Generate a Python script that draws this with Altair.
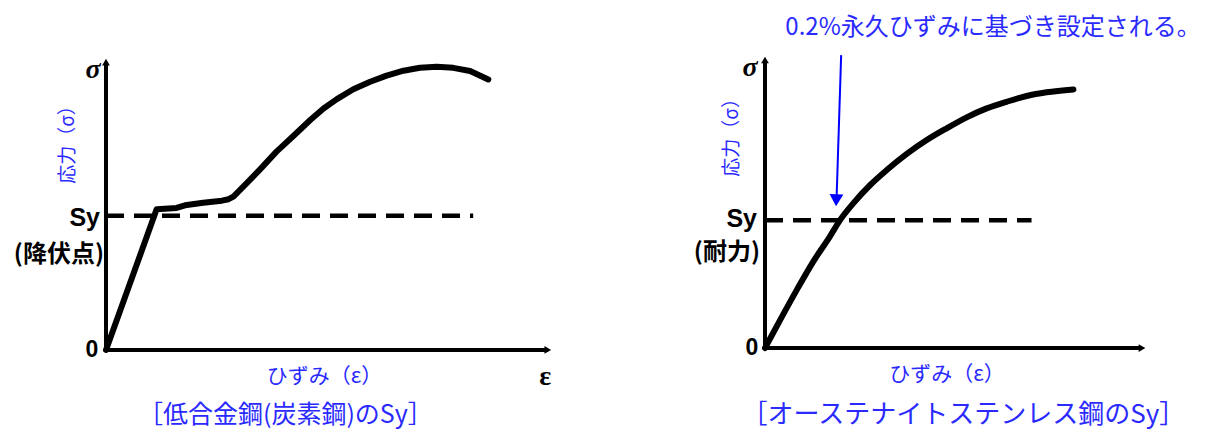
import altair as alt
import pandas as pd

# ---------------- data (relative units: strain 0-100, stress 0-100) ----------------
# Left: low-alloy (carbon) steel
left_strain = [0, 11.4, 15.9, 17.8, 21.9, 26.1, 27.6, 28.7, 31.7, 34.7, 38.4, 42.2, 46.0, 49.0,
               52.0, 55.7, 59.5, 63.2, 67.0, 70.7, 74.5, 78.2, 82.0, 86.1]
left_stress = [0, 48.5, 49.0, 49.9, 50.8, 51.5, 52.0, 52.9, 57.5, 62.3, 68.4, 73.8, 79.3, 83.3,
               86.5, 89.9, 92.5, 94.6, 96.3, 97.3, 97.7, 97.3, 96.2, 93.3]
left_sy = 46.3
left_sy_end = 82.7

# Right: austenitic stainless steel
right_strain = [0, 4.0, 8.4, 12.8, 17.2, 19.9, 23.4, 27.9, 32.3, 37.6, 42.9, 48.2, 53.5,
                58.8, 64.1, 69.4, 74.7, 81.8]
right_stress = [0, 9.7, 20.1, 30.0, 38.7, 44.4, 50.2, 56.6, 61.8, 67.4, 72.2, 76.3, 80.1,
                83.2, 85.5, 87.5, 88.8, 89.8]
right_sy = 44.4
right_sy_end = 70.7

# annotation arrow (right panel)
arrow_x = [20.2, 19.0]
arrow_y = [101.7, 52.5]

BLUE = "#2a2aff"
JP = "Noto Sans CJK JP"

# panel domains (relative units)
L_XD = [-22.07, 111.26]
L_YD = [-26.21, 117.93]
R_XD = [-43.77, 115.92]
R_YD = [-27.08, 118.06]


def enc(xd, yd, **kw):
    return dict(
        x=alt.X("x:Q", scale=alt.Scale(domain=xd, nice=False, zero=False), axis=None),
        y=alt.Y("y:Q", scale=alt.Scale(domain=yd, nice=False, zero=False), axis=None),
        **kw,
    )


def text_layer(rows, xd, yd, **mark):
    df = pd.DataFrame(rows)
    return alt.Chart(df).mark_text(**mark).encode(**enc(xd, yd, text="t:N"))


def panel(strain, stress, sy, sy_end, y_top, x_end, xd, yd, interp,
          sy_label, sy_sub, sigma_pos, zero_pos, eps_pos, xlab_pos, ylab_pos, title_pos,
          sy_pos, sub_pos, w, h, extra=None):
    curve = pd.DataFrame({"x": strain, "y": stress, "o": range(len(strain))})
    axes = pd.DataFrame({"x": [0, 0], "y": [0, 0], "x2": [0, x_end], "y2": [y_top, 0]})
    dash = pd.DataFrame({"x": [0], "y": [sy], "x2": [sy_end], "y2": [sy]})
    heads = pd.DataFrame({"x": [0, x_end], "y": [y_top, 0], "s": ["triangle-up", "triangle-right"]})

    sc_x = alt.Scale(domain=xd, nice=False, zero=False)
    sc_y = alt.Scale(domain=yd, nice=False, zero=False)

    layers = [
        alt.Chart(axes).mark_rule(color="black", strokeWidth=4).encode(
            x=alt.X("x:Q", scale=sc_x, axis=None), y=alt.Y("y:Q", scale=sc_y, axis=None),
            x2="x2:Q", y2="y2:Q"),
        alt.Chart(heads).mark_point(filled=True, color="black", size=60, opacity=1).encode(
            x=alt.X("x:Q", scale=sc_x, axis=None), y=alt.Y("y:Q", scale=sc_y, axis=None),
            shape=alt.Shape("s:N", scale=None)),
        alt.Chart(dash).mark_rule(color="black", strokeWidth=4.5, strokeDash=[18, 10]).encode(
            x=alt.X("x:Q", scale=sc_x, axis=None), y=alt.Y("y:Q", scale=sc_y, axis=None),
            x2="x2:Q", y2="y2:Q"),
        alt.Chart(curve).mark_line(color="black", strokeWidth=6, interpolate=interp,
                                   strokeCap="round", strokeJoin="round").encode(
            x=alt.X("x:Q", scale=sc_x, axis=None), y=alt.Y("y:Q", scale=sc_y, axis=None),
            order="o:Q"),
        text_layer([{"x": sigma_pos[0], "y": sigma_pos[1], "t": "σ"}], xd, yd,
                   font="Liberation Serif", fontSize=28, fontWeight="bold", fontStyle="italic",
                   color="black", baseline="middle"),
        text_layer([{"x": zero_pos[0], "y": zero_pos[1], "t": "0"}], xd, yd,
                   font="Liberation Sans", fontSize=23, fontWeight="bold", color="black",
                   baseline="middle"),
        text_layer([{"x": sy_pos[0], "y": sy_pos[1], "t": sy_label}], xd, yd,
                   font="Liberation Sans", fontSize=25, fontWeight="bold", color="black",
                   baseline="middle", align="right"),
        text_layer([{"x": sub_pos[0], "y": sub_pos[1], "t": sy_sub}], xd, yd,
                   font=JP, fontSize=24, fontWeight="bold", color="black",
                   baseline="middle", align="right"),
        text_layer([{"x": xlab_pos[0], "y": xlab_pos[1], "t": "ひずみ（ε）"}], xd, yd,
                   font=JP, fontSize=21, color=BLUE, baseline="middle"),
        text_layer([{"x": ylab_pos[0], "y": ylab_pos[1], "t": "応力（σ）"}], xd, yd,
                   font=JP, fontSize=19, color=BLUE, baseline="middle", angle=270),
        text_layer([{"x": title_pos[0], "y": title_pos[1], "t": title_pos[2]}], xd, yd,
                   font=JP, fontSize=title_pos[3], color=BLUE, baseline="middle"),
    ]
    if eps_pos is not None:
        layers.append(text_layer([{"x": eps_pos[0], "y": eps_pos[1], "t": "ε"}], xd, yd,
                                 font="Liberation Serif", fontSize=28, fontWeight="bold",
                                 color="black", baseline="middle"))
    if extra:
        layers.extend(extra)
    return alt.layer(*layers).properties(width=w, height=h)


# arrow + annotation for right panel
sc_rx = alt.Scale(domain=R_XD, nice=False, zero=False)
sc_ry = alt.Scale(domain=R_YD, nice=False, zero=False)
arr = pd.DataFrame({"x": [arrow_x[0]], "y": [arrow_y[0]], "x2": [arrow_x[1]], "y2": [arrow_y[1]]})
arr_head = pd.DataFrame({"x": [18.9], "y": [51.3]})
extra_right = [
    alt.Chart(arr).mark_rule(color="#0000ff", strokeWidth=2).encode(
        x=alt.X("x:Q", scale=sc_rx, axis=None), y=alt.Y("y:Q", scale=sc_ry, axis=None),
        x2="x2:Q", y2="y2:Q"),
    alt.Chart(arr_head).mark_point(filled=True, color="#0000ff", shape="triangle-down",
                                   size=190, opacity=1, angle=2).encode(
        x=alt.X("x:Q", scale=sc_rx, axis=None), y=alt.Y("y:Q", scale=sc_ry, axis=None)),
    text_layer([{"x": 60.5, "y": 111.1, "t": "0.2%永久ひずみに基づき設定される。"}], R_XD, R_YD,
               font=JP, fontSize=24, color=BLUE, baseline="middle"),
]

left = panel(left_strain, left_stress, left_sy, left_sy_end, 99.3, 99.5, L_XD, L_YD, "linear",
             "Sy", "(降伏点)", (-2.9, 96.6), (-3.2, 0), (98.9, -9.3), (49.2, -9.3), (-8.6, 72.4),
             (40.4, -22.4, "［低合金鋼(炭素鋼)のSy］", 25), (-1.35, 45.5), (-0.45, 32.8), 592, 418)

right = panel(right_strain, right_stress, right_sy, right_sy_end, 100, 100, R_XD, R_YD, "monotone",
              "Sy", "(耐力)", (-4.0, 97.2), (-3.45, 0), None, (48.3, -9.4), (-8.75, 74.7),
              (52.65, -23.3, "［オーステナイトステンレス鋼のSy］", 26), (-2.12, 44.8), (-1.33, 33.0),
              602, 418, extra=extra_right)

chart = alt.hconcat(left, right, spacing=0).configure(padding=0).configure_view(stroke=None)

chart.save("out.html", embed_options={"renderer": "svg", "actions": False})
